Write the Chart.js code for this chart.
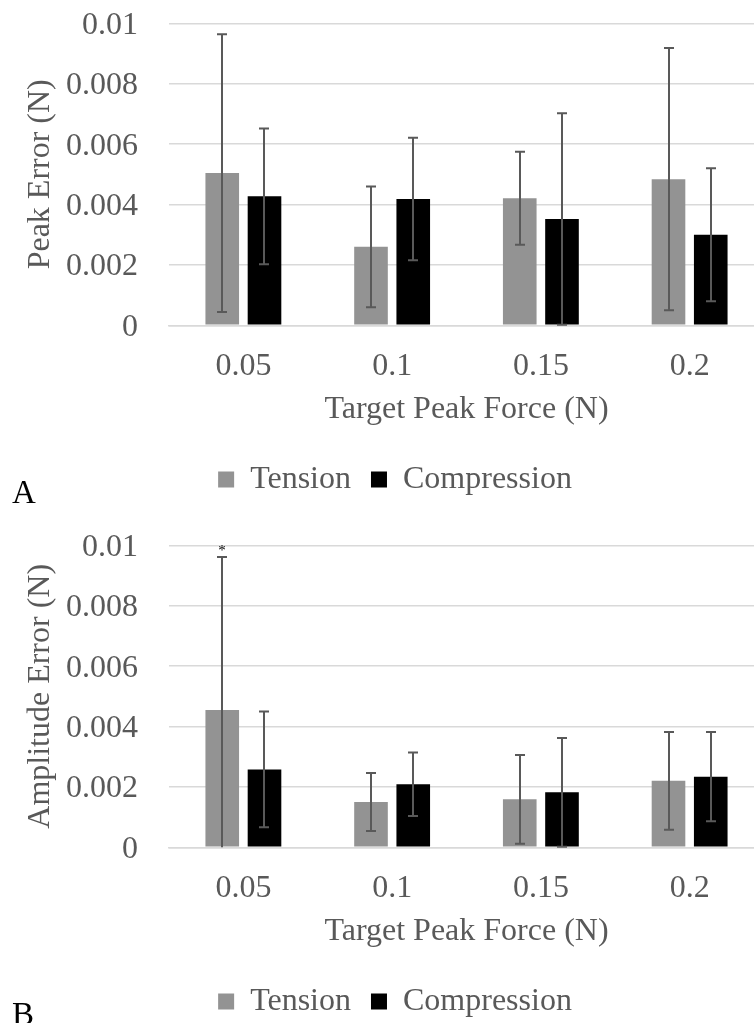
<!DOCTYPE html>
<html><head><meta charset="utf-8">
<script src="https://cdn.jsdelivr.net/npm/chart.js@4.4.0/dist/chart.umd.min.js"></script>
<style>
html,body{margin:0;padding:0;overflow:hidden;background:#fff;width:754px;height:1023px;}
.wrap{position:absolute;left:0;width:764px;height:522px;}
.panel{position:absolute;left:12px;font-family:'Liberation Serif','Times New Roman',serif;font-size:33px;line-height:33px;color:#000;}
</style></head><body>
<div class="wrap" style="top:0px"><canvas id="chartA" width="764" height="522"></canvas></div>
<div class="wrap" style="top:522px"><canvas id="chartB" width="764" height="522"></canvas></div>
<div class="panel" style="top:476px">A</div>
<div class="panel" style="top:998px">B</div>
<script>
// ---- data ----
const categories = ['0.05', '0.1', '0.15', '0.2'];
const seriesNames = ['Tension', 'Compression'];
const yTickLabels = ['0', '0.002', '0.004', '0.006', '0.008', '0.01'];

// Panel A: Peak Error (N)
const peakTension = [0.00504, 0.00260, 0.00421, 0.00484];
const peakTensionSD = [0.00460, 0.00200, 0.00154, 0.00434];
const peakCompression = [0.00427, 0.00418, 0.00352, 0.00300];
const peakCompressionSD = [0.00225, 0.00203, 0.00350, 0.00220];

// Panel B: Amplitude Error (N)
const ampTension = [0.00455, 0.00150, 0.00159, 0.00220];
const ampTensionSD = [0.00506, 0.00096, 0.00147, 0.00162];
const ampCompression = [0.00258, 0.00209, 0.00182, 0.00234];
const ampCompressionSD = [0.00192, 0.00105, 0.00180, 0.00148];
const ampTensionMarks = ['*', '', '', ''];
const ampCompressionMarks = ['', '', '', ''];

// ---- chart setup ----
Chart.defaults.font.family = "'Liberation Serif', 'Times New Roman', serif";
Chart.defaults.color = '#595959';

const errorBarPlugin = {
  id: 'errorBars',
  afterDatasetsDraw(chart, args, opts) {
    const ctx = chart.ctx, ys = chart.scales.y;
    ctx.save();
    ctx.strokeStyle = opts.color;
    ctx.lineWidth = opts.width;
    chart.data.datasets.forEach((ds, i) => {
      const meta = chart.getDatasetMeta(i);
      const sds = opts.sd[i];
      meta.data.forEach((bar, j) => {
        const v = ds.data[j], sd = sds[j];
        const hi = v + sd, lo = v - sd;
        const yHi = ys.getPixelForValue(hi);
        const yLo = ys.getPixelForValue(Math.max(lo, 0));
        const x = Math.round(bar.x);
        ctx.beginPath();
        ctx.moveTo(x, yHi); ctx.lineTo(x, yLo);
        ctx.moveTo(x - opts.cap, yHi); ctx.lineTo(x + opts.cap, yHi);
        if (lo >= 0) { ctx.moveTo(x - opts.cap, yLo); ctx.lineTo(x + opts.cap, yLo); }
        ctx.stroke();
        const mark = opts.marks && opts.marks[i] && opts.marks[i][j];
        if (mark) {
          ctx.fillStyle = '#000';
          ctx.font = "15px 'Liberation Serif'";
          ctx.textAlign = 'center';
          ctx.textBaseline = 'alphabetic';
          ctx.fillText(mark, x, yHi - 2);
        }
      });
    });
    ctx.restore();
  }
};

const legendShift = {
  id: 'legendShift',
  afterLayout(chart, args, opts) {
    const l = chart.legend;
    if (l) { l.left += opts.dx; l.right += opts.dx; }
  }
};

function build(id, yTitle, tension, tensionSD, comp, compSD, marks) {
  return new Chart(document.getElementById(id), {
    type: 'bar',
    data: {
      labels: categories,
      datasets: [
        { label: seriesNames[0], data: tension, backgroundColor: '#939393', borderWidth: 0,
          categoryPercentage: 0.568, barPercentage: 0.796 },
        { label: seriesNames[1], data: comp, backgroundColor: '#000000', borderWidth: 0,
          categoryPercentage: 0.568, barPercentage: 0.796 }
      ]
    },
    plugins: [errorBarPlugin, legendShift],
    options: {
      responsive: false,
      animation: false,
      devicePixelRatio: 1,
      layout: { padding: { top: 23.3, bottom: 16.5, left: 0, right: 0 } },
      scales: {
        x: {
          ticks: { padding: 22, font: { size: 32 }, color: '#595959' },
          grid: { display: false, drawTicks: false },
          border: { display: true, color: '#d9d9d9', width: 1.5 },
          title: { display: true, text: 'Target Peak Force (N)', font: { size: 32 }, color: '#595959',
                   padding: { top: 0, bottom: 15 } },
          afterFit: s => { s.height = 118.2; }
        },
        y: {
          min: 0, max: 0.01,
          ticks: { stepSize: 0.002, padding: 0, labelOffset: 2, font: { size: 32 }, color: '#595959',
                   callback: (v, i) => yTickLabels[i] },
          grid: { color: '#d9d9d9', lineWidth: 1.5, drawTicks: true, tickLength: 31,
                  tickColor: 'rgba(0,0,0,0)' },
          border: { display: false },
          title: { display: true, text: yTitle, font: { size: 32 }, color: '#595959',
                   padding: { top: 21, bottom: 0 } },
          afterFit: s => { s.width = 169; }
        }
      },
      plugins: {
        legend: {
          position: 'bottom',
          labels: { boxWidth: 16, boxHeight: 16, padding: 20, font: { size: 32 }, color: '#595959' }
        },
        tooltip: { enabled: false },
        errorBars: { sd: [tensionSD, compSD], marks: marks, color: '#595959', width: 2, cap: 5 },
        legendShift: { dx: 13 }
      }
    }
  });
}

build('chartA', 'Peak Error (N)', peakTension, peakTensionSD, peakCompression, peakCompressionSD, null);
build('chartB', 'Amplitude Error (N)', ampTension, ampTensionSD, ampCompression, ampCompressionSD,
      [ampTensionMarks, ampCompressionMarks]);
</script>
</body></html>
